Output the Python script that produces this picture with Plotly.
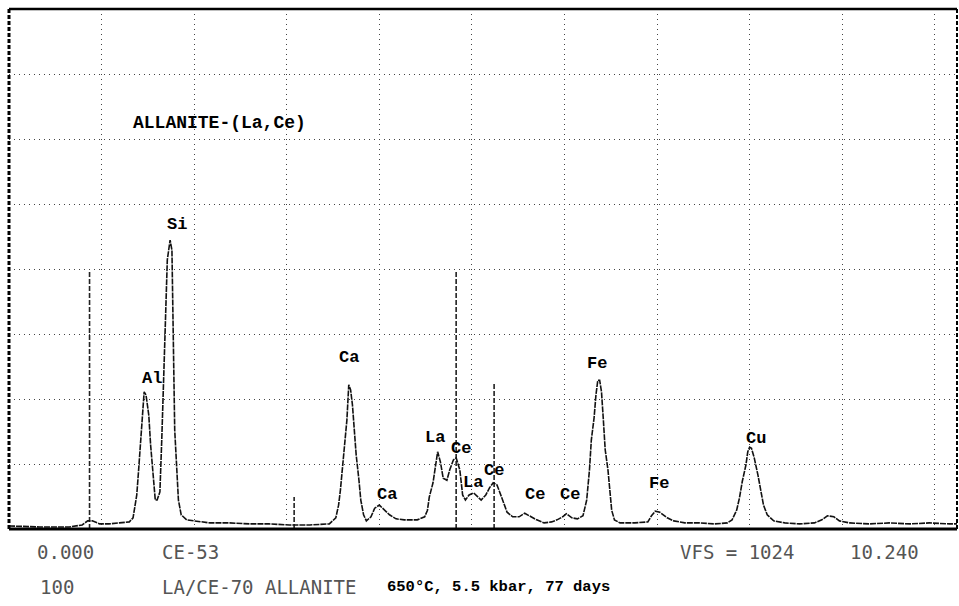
import plotly.graph_objects as go

# Spectrum: energy (keV) and counts (full scale 1024)
energy_kev = [0.00, 0.33, 0.65, 0.79, 0.85, 0.90, 0.98, 1.08, 1.19, 1.30, 1.34, 1.38, 1.40, 1.42, 1.44,
              1.46, 1.48, 1.51, 1.53, 1.56, 1.58, 1.60, 1.63, 1.65, 1.67, 1.69, 1.71, 1.74, 1.76, 1.77,
              1.78, 1.79, 1.81, 1.83, 1.86, 1.92, 2.00, 2.17, 2.38, 2.60, 2.81, 3.03, 3.25, 3.46, 3.53,
              3.56, 3.58, 3.60, 3.62, 3.65, 3.67, 3.69, 3.71, 3.73, 3.75, 3.78, 3.80, 3.83, 3.86, 3.91,
              3.95, 4.00, 4.06, 4.11, 4.18, 4.27, 4.41, 4.49, 4.52, 4.54, 4.58, 4.60, 4.63, 4.66, 4.69,
              4.73, 4.76, 4.80, 4.83, 4.87, 4.90, 4.93, 4.97, 5.02, 5.06, 5.10, 5.15, 5.19, 5.23, 5.27,
              5.30, 5.34, 5.38, 5.44, 5.51, 5.57, 5.62, 5.70, 5.78, 5.86, 5.92, 5.98, 6.02, 6.08, 6.14,
              6.20, 6.24, 6.27, 6.29, 6.32, 6.34, 6.36, 6.38, 6.40, 6.42, 6.44, 6.47, 6.49, 6.51, 6.54,
              6.60, 6.76, 6.90, 6.94, 6.98, 7.03, 7.07, 7.11, 7.18, 7.30, 7.46, 7.62, 7.76, 7.81, 7.86,
              7.89, 7.92, 7.96, 7.98, 8.00, 8.02, 8.05, 8.09, 8.12, 8.15, 8.19, 8.26, 8.38, 8.54, 8.70,
              8.78, 8.84, 8.91, 8.97, 9.08, 9.29, 9.51, 9.73, 9.94, 10.16, 10.24]
counts = [6, 4, 4, 8, 16, 16, 10, 10, 12, 14, 22, 67, 116, 175, 234,
          270, 264, 224, 165, 96, 57, 57, 73, 175, 274, 411, 530, 569, 549, 451,
          313, 195, 126, 57, 28, 18, 16, 12, 12, 10, 10, 8, 8, 10, 22,
          47, 77, 116, 165, 215, 284, 274, 244, 195, 146, 96, 57, 28, 16, 24,
          41, 47, 37, 28, 20, 18, 18, 24, 37, 63, 91, 116, 152, 132, 100,
          96, 116, 136, 140, 116, 67, 57, 67, 71, 63, 57, 67, 81, 91, 87,
          73, 51, 33, 24, 24, 31, 26, 18, 12, 14, 18, 24, 30, 22, 20,
          26, 57, 116, 175, 219, 264, 293, 293, 270, 215, 156, 116, 73, 37, 18,
          12, 12, 14, 26, 35, 33, 28, 22, 16, 12, 12, 10, 12, 18, 37,
          61, 93, 126, 152, 161, 159, 140, 106, 73, 47, 28, 16, 12, 10, 12,
          18, 26, 24, 16, 12, 10, 12, 10, 12, 10, 10]

# Vertical marker lines (energy, top in counts)
marker_kev = [0.87, 3.08, 4.83, 5.24]
marker_top = [510, 63, 510, 287]

# Peak labels
label_text = ["Si", "Al", "Ca", "Ca", "La", "Ce", "La", "Ce", "Ce", "Ce", "Fe", "Fe", "Cu"]
label_kev = [1.81, 1.54, 3.67, 4.08, 4.60, 4.88, 5.01, 5.24, 5.68, 6.06, 6.35, 7.02, 8.07]
label_cnt = [599, 297, 337, 67, 181, 159, 91, 116, 67, 67, 325, 89, 179]

x_range = [0, 10.24]
vfs = 1024

fig = go.Figure()

mx, my = [], []
for e, t in zip(marker_kev, marker_top):
    mx += [e, e, None]
    my += [0, t, None]
fig.add_trace(go.Scatter(x=mx, y=my, mode="lines",
                         line=dict(color="#222", width=1.6, dash="5px,2px"),
                         hoverinfo="skip", showlegend=False))

fig.add_trace(go.Scatter(x=energy_kev, y=counts, mode="lines",
                         line=dict(color="#111", width=1.6, dash="6px,1px"),
                         showlegend=False))

tw_font = dict(family="Liberation Mono", size=17, color="#000", weight="bold")
for t, x, y in zip(label_text, label_kev, label_cnt):
    fig.add_annotation(x=x, y=y, text=t, showarrow=False, xanchor="center",
                       yanchor="middle", font=tw_font)

fig.add_annotation(x=1.32, y=799, text="ALLANITE-(La,Ce)", showarrow=False,
                   xanchor="left", yanchor="middle",
                   font=dict(family="Liberation Mono", size=18, color="#000", weight="bold"))

# bottom texts (paper coordinates derived from pixel layout)
plot_l, plot_w, plot_b, plot_h = 9, 948, 529, 520
def px(xp):
    return (xp - plot_l) / plot_w
def py(yp):
    return (plot_b - yp) / plot_h

seg_font = dict(family="DejaVu Sans Mono", size=19, color="#555")
bottom = [
    ("0.000", 35, 552, seg_font),
    ("CE-53", 160, 552, seg_font),
    ("VFS = 1024", 678, 552, seg_font),
    ("10.240", 848, 552, seg_font),
    ("100", 38, 587, seg_font),
    ("LA/CE-70 ALLANITE", 160, 587, seg_font),
    ("650°C, 5.5 kbar, 77 days", 385, 587,
     dict(family="Liberation Mono", size=15.5, color="#000", weight="bold")),
]
for t, xp, yp, f in bottom:
    fig.add_annotation(xref="paper", yref="paper", x=px(xp), y=py(yp), text=t,
                       showarrow=False, xanchor="left", yanchor="middle", font=f)

# frame
fig.add_shape(type="line", xref="paper", yref="paper", x0=0, x1=1, y0=1, y1=1,
              line=dict(color="#000", width=2.5))
fig.add_shape(type="line", xref="paper", yref="paper", x0=1, x1=1, y0=0, y1=1,
              line=dict(color="#000", width=2, dash="4px,2px"))
fig.add_shape(type="line", xref="paper", yref="paper", x0=0, x1=1, y0=0, y1=0,
              line=dict(color="#000", width=3))
fig.add_shape(type="line", xref="paper", yref="paper", x0=0, x1=0, y0=0, y1=1,
              line=dict(color="#000", width=3, dash="4px,2px"))

fig.update_xaxes(range=x_range, dtick=1, showgrid=True, gridcolor="#444",
                 griddash="1px,4px", gridwidth=1.2, showticklabels=False, ticks="",
                 zeroline=False, showline=False)
fig.update_yaxes(range=[0, vfs], dtick=128, showgrid=True, gridcolor="#444",
                 griddash="1px,4px", gridwidth=1.2, showticklabels=False, ticks="",
                 zeroline=False, showline=False)

fig.update_layout(width=959, height=606, margin=dict(l=9, r=2, t=9, b=77),
                  plot_bgcolor="white", paper_bgcolor="white")

fig.write_html("out.html")
